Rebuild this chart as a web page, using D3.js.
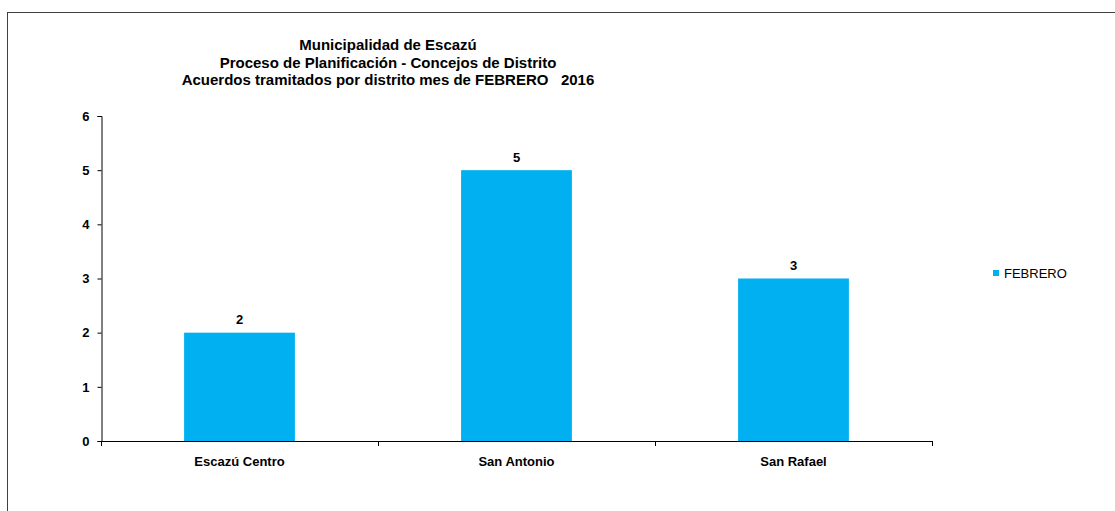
<!DOCTYPE html>
<html>
<head>
<meta charset="utf-8">
<script src="https://cdn.jsdelivr.net/npm/d3@7"></script>
<style>
  body { margin: 0; background: #fff; }
  svg { display: block; font-family: Arial, "Liberation Sans", sans-serif; }
</style>
</head>
<body>
<div id="chart"></div>
<script>
// ------ DATA ------
const titleLines = [
  'Municipalidad de Escazú',
  'Proceso de Planificación - Concejos de Distrito',
  'Acuerdos tramitados por distrito mes de FEBRERO   2016'
];
const districts = ['Escazú Centro', 'San Antonio', 'San Rafael'];
const febrero = [2, 5, 3];
const yTicks = [0, 1, 2, 3, 4, 5, 6];
const seriesName = 'FEBRERO';

// ------ LAYOUT ------
const W = 1115, H = 511;
const plot = {left: 101, right: 932, top: 116, bottom: 441};
const barColor = '#00B0F0';
const labelSize = 13;

const svg = d3.select('#chart').append('svg')
  .attr('width', W).attr('height', H);

// outer chart frame (runs off the right and bottom edges)
svg.append('rect')
  .attr('x', 7.5).attr('y', 12.5)
  .attr('width', W + 20).attr('height', H + 20)
  .attr('fill', 'none').attr('stroke', '#404040').attr('stroke-width', 1);

// title
svg.append('text')
  .attr('text-anchor', 'middle')
  .attr('font-size', 15).attr('font-weight', 'bold')
  .selectAll('tspan')
  .data(titleLines)
  .join('tspan')
    .attr('x', 388)
    .attr('y', (d, i) => 50 + i * 17.5)
    .style('white-space', 'pre')
    .text(d => d);

// scales
const x = d3.scaleBand()
  .domain(districts)
  .range([plot.left, plot.right])
  .paddingInner(0.6).paddingOuter(0.3);

const y = d3.scaleLinear()
  .domain([0, 6])
  .range([plot.bottom, plot.top]);

// bars
svg.selectAll('.bar')
  .data(districts)
  .join('rect')
    .attr('class', 'bar')
    .attr('x', d => x(d))
    .attr('y', (d, i) => y(febrero[i]))
    .attr('width', x.bandwidth())
    .attr('height', (d, i) => y(0) - y(febrero[i]))
    .attr('fill', barColor);

// value labels
svg.selectAll('.val')
  .data(districts)
  .join('text')
    .attr('class', 'val')
    .attr('x', d => x(d) + x.bandwidth() / 2)
    .attr('y', (d, i) => y(febrero[i]) - 8.5)
    .attr('text-anchor', 'middle')
    .attr('font-size', labelSize).attr('font-weight', 'bold')
    .text((d, i) => febrero[i]);

// y axis
const yAxis = svg.append('g')
  .attr('transform', `translate(${plot.left + 0.5},0)`)
  .call(d3.axisLeft(y).tickValues(yTicks).tickSize(4).tickPadding(8).tickFormat(d3.format('d')));
yAxis.select('.domain').attr('stroke', '#000');
yAxis.selectAll('.tick line').attr('stroke', '#000');
yAxis.selectAll('text')
  .attr('font-family', 'Arial, "Liberation Sans", sans-serif')
  .attr('font-size', labelSize).attr('font-weight', 'bold').attr('fill', '#000');

// x axis: category separator ticks below the line
const boundaries = d3.range(districts.length + 1).map(i => plot.left + i * (plot.right - plot.left) / districts.length);
svg.append('line')
  .attr('x1', plot.left).attr('x2', plot.right)
  .attr('y1', plot.bottom + 0.5).attr('y2', plot.bottom + 0.5)
  .attr('stroke', '#000');
svg.selectAll('.xtick')
  .data(boundaries)
  .join('line')
    .attr('class', 'xtick')
    .attr('x1', d => Math.round(d) + 0.5).attr('x2', d => Math.round(d) + 0.5)
    .attr('y1', plot.bottom).attr('y2', plot.bottom + 5)
    .attr('stroke', '#000');

svg.selectAll('.xlab')
  .data(districts)
  .join('text')
    .attr('class', 'xlab')
    .attr('x', d => x(d) + x.bandwidth() / 2)
    .attr('y', plot.bottom + 25)
    .attr('text-anchor', 'middle')
    .attr('font-size', labelSize).attr('font-weight', 'bold')
    .text(d => d);

// legend
const legend = svg.append('g').attr('transform', 'translate(993,270)');
legend.append('rect')
  .attr('width', 6).attr('height', 6)
  .attr('fill', barColor);
legend.append('text')
  .attr('x', 11).attr('y', 7.5)
  .attr('font-size', 13)
  .attr('fill', '#000')
  .text(seriesName);
</script>
</body>
</html>
